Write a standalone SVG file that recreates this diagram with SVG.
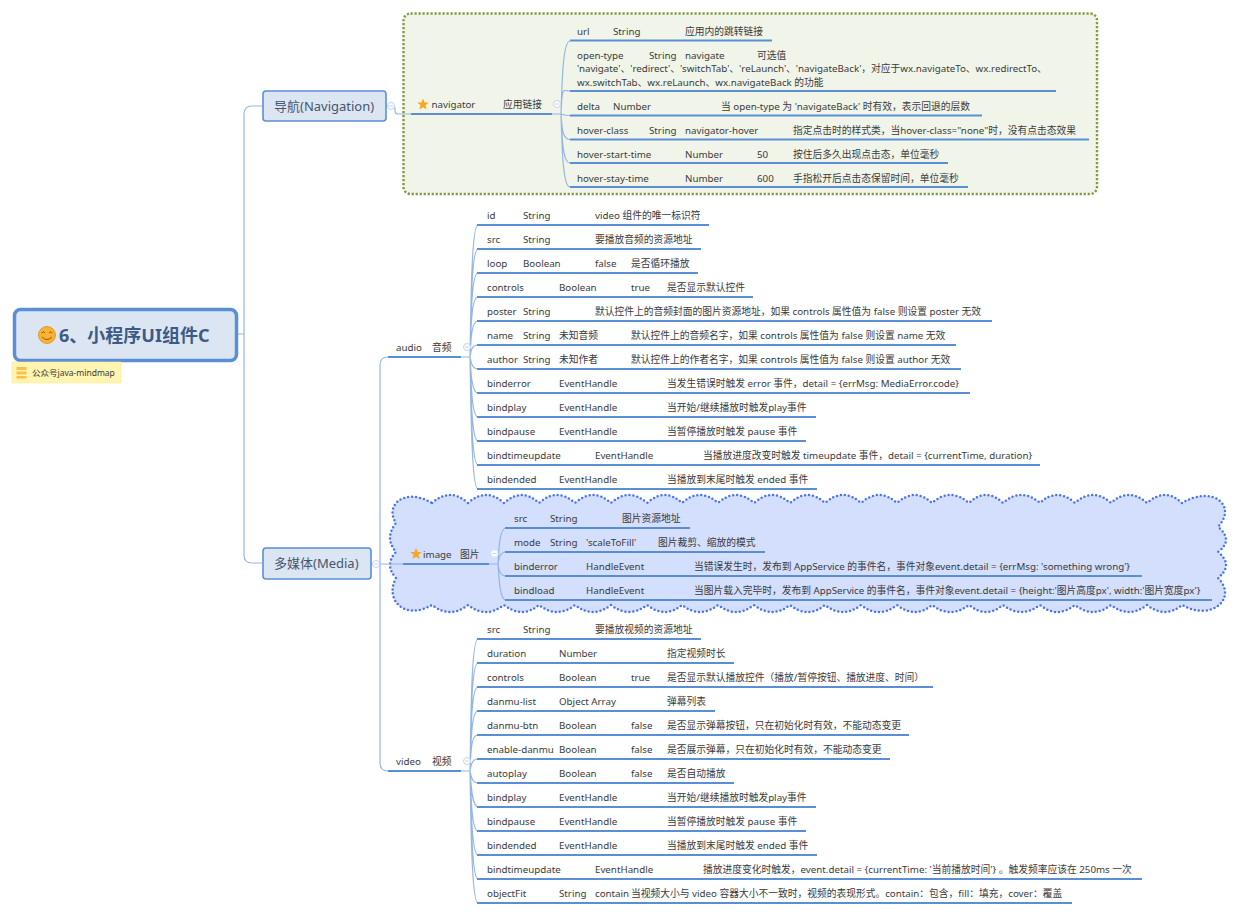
<svg xmlns="http://www.w3.org/2000/svg" width="1240" height="915" viewBox="0 0 1240 915">
<style>
text{font-family:"Noto Sans","Noto Sans CJK SC",sans-serif;font-size:9.75px;fill:#3a3a3a}
.u{stroke:#5b8fd5;stroke-width:2;fill:none}
.c{stroke:#94b6e6;stroke-width:1.2;fill:none}
.f{fill:#fff;stroke:#c3d4ee;stroke-width:1}
.m{stroke:#c3d4ee;stroke-width:1}
.b{fill:#dce6f2;stroke:#5b8fd5;stroke-width:1.6}
.bt{font-size:13px;fill:#45556e}
</style>
<defs>
<polygon id="star" points="0,-6 1.6,-2 5.8,-1.9 2.5,.8 3.6,5 0,2.7 -3.6,5 -2.5,.8 -5.8,-1.9 -1.6,-2" fill="#f5a81c"/>
</defs>
<rect id="boundary-navigator" x="403.500" y="13.500" width="693.500" height="180.500" rx="7" fill="#f1f5e9" stroke="#7f9a3f" stroke-width="2.400" stroke-dasharray="2.200 1.800"/>
<path id="boundary-image" d="M432 503Q450 487 468 503Q486 487 504 503Q522 487 539 503Q557 487 575 503Q593 487 611 503Q629 487 647 503Q665 487 682 503Q700 487 718 503Q736 487 754 503Q772 487 790 503Q808 487 825 503Q843 487 861 503Q879 487 897 503Q915 487 932 503Q950 487 969 503Q986 487 1003 503Q1021 487 1040 503Q1057 487 1075 503Q1093 487 1111 503Q1129 487 1147 503Q1165 487 1182 503C1212 485 1238 505 1218 527Q1234 540 1218 552Q1234 565 1218 578C1238 598 1212 622 1182 605Q1165 619 1147 605Q1129 619 1111 605Q1093 619 1075 605Q1057 619 1040 605Q1021 619 1003 605Q986 619 969 605Q950 619 932 605Q915 619 897 605Q879 619 861 605Q843 619 825 605Q808 619 790 605Q772 619 754 605Q736 619 718 605Q700 619 682 605Q665 619 647 605Q629 619 611 605Q593 619 575 605Q557 619 539 605Q522 619 504 605Q486 619 468 605Q450 619 432 605C405 621 384 600 396 578Q384 565 396 552Q384 538 396 523C384 505 405 487 432 503Z" fill="#d3dffd" stroke="#4a74f0" stroke-width="2.500" stroke-linecap="round" stroke-dasharray="0 4"/>
<g id="connectors">
<path class="c" d="M237 334H244M262 106H252Q244 106 244 114V555Q244 563 252 563H262"/>
<path class="c" d="M371 564H403M388 357Q380 357 380 365V763Q380 771 388 771"/>
<path class="c" d="M386 106H392Q395 106 395 109V111Q395 114 398 114H411"/>
<path class="c" d="M552 114H561C562 80 563 41 570 41M561 114C562 85 563 91 570 91M561 114C562 114 563 115.500 570 115.500M561 114C562 130 563 139.500 570 139.500M561 114C562 140 563 163 570 163M561 114C562 150 563 187 570 187"/>
<path class="c" d="M461 357H470C471 290 472 225 478 225M470 357C471 300 472 249 478 249M470 357C471 310 472 273 478 273M470 357C471 320 472 297 478 297M470 357C471 335 472 321 478 321M470 357C471 350 472 345 478 345M470 357C471 362 472 369 478 369M470 357C471 375 472 393 478 393M470 357C471 385 472 417 478 417M470 357C471 400 472 441 478 441M470 357C471 410 472 465 478 465M470 357C471 420 472 489 478 489"/>
<path class="c" d="M489 564H498C499 545 500 528 506 528M498 564C499 558 500 552 506 552M498 564C499 570 500 576 506 576M498 564C499 580 500 600 506 600"/>
<path class="c" d="M461 771H470C471 700 472 639 478 639M470 771C471 710 472 663 478 663M470 771C471 720 472 687 478 687M470 771C471 735 472 711 478 711M470 771C471 745 472 735 478 735M470 771C471 765 472 759 478 759M470 771C471 776 472 783 478 783M470 771C471 785 472 807 478 807M470 771C471 800 472 831 478 831M470 771C471 810 472 855 478 855M470 771C471 820 472 879 478 879M470 771C471 835 472 903 478 903"/>
</g>
<g id="root">
<rect x="14.500" y="309.500" width="222" height="51" rx="6" fill="#dce6f2" stroke="#5b8fd5" stroke-width="3.500"/>
<circle cx="47" cy="335" r="8.500" fill="#f9b233" stroke="#e08e1a" stroke-width=".8"/>
<path d="M41.500 333q2-2.500 3.500 0M49 333q2-2.500 3.500 0M42 337q5 5 10 0" fill="none" stroke="#8a5a10" stroke-width="1"/>
<text x="59" y="341.500" style="font-size:18px;font-weight:700;fill:#3d5a87">6、小程序UI组件C</text>
</g>
<g id="note">
<rect x="12" y="362" width="109" height="21" fill="#fff4b0" stroke="#fbe9a0" stroke-width=".6"/>
<rect x="16.500" y="367" width="10" height="3" fill="#fbbf4b"/><rect x="16.500" y="371.500" width="10" height="3" fill="#fbbf4b"/><rect x="16.500" y="376" width="10" height="2.500" fill="#fbbf4b"/>
<text x="32" y="376" style="font-size:8.500px">公众号java-mindmap</text>
</g>
<g id="nav"><rect class="b" x="263" y="91" width="123" height="30" rx="3"/><text class="bt" x="274" y="111">导航(Navigation)</text><circle class="f" cx="391" cy="106" r="3.500"/><path class="m" d="M389 106h4"/></g>
<g id="media"><rect class="b" x="263" y="548" width="108" height="31" rx="3"/><text class="bt" x="274" y="568">多媒体(Media)</text><circle class="f" cx="376" cy="564" r="3.500"/><path class="m" d="M374 564h4"/></g>
<g id="navigator"><use href="#star" x="423" y="104.500"/><path class="u" d="M411 114H552"/><text y="108"><tspan x="431.500">navigator</tspan><tspan x="503">应用链接</tspan></text><circle class="f" cx="557" cy="104" r="3.500"/><path class="m" d="M555 104h4"/></g>
<g id="audio"><path class="u" d="M388 357H461"/><text y="351"><tspan x="396">audio</tspan><tspan x="432">音频</tspan></text><circle class="f" cx="467" cy="347" r="3.500"/><path class="m" d="M465 347h4"/></g>
<g id="image"><use href="#star" x="416" y="554"/><path class="u" d="M403 564H489"/><text y="557.500"><tspan x="423">image</tspan><tspan x="460">图片</tspan></text><circle cx="494.500" cy="553.500" r="3.500" fill="#fff" stroke="#dfe7fb"/><path class="m" d="M492.500 553.500h4"/></g>
<g id="video"><path class="u" d="M388 771H461"/><text y="764.500"><tspan x="396">video</tspan><tspan x="432">视频</tspan></text><circle class="f" cx="467" cy="761" r="3.500"/><path class="m" d="M465 761h4"/></g>
<g id="nav-url"><path class="u" d="M570 40.500H772"/><text y="35"><tspan x="577">url</tspan><tspan x="613">String</tspan><tspan x="685">应用内的跳转链接</tspan></text></g>
<g id="nav-open-type"><path class="u" d="M570 91H1056"/><text y="58.500"><tspan x="577">open-type</tspan><tspan x="649">String</tspan><tspan x="685">navigate</tspan><tspan x="757">可选值</tspan></text><text x="577" y="72">'navigate'、'redirect'、'switchTab'、'reLaunch'、'navigateBack'，对应于wx.navigateTo、wx.redirectTo、</text><text x="577" y="85.500">wx.switchTab、wx.reLaunch、wx.navigateBack 的功能</text></g>
<g id="nav-delta"><path class="u" d="M570 115.500H982"/><text y="109.500"><tspan x="577">delta</tspan><tspan x="613">Number</tspan><tspan x="721">当 open-type 为 'navigateBack' 时有效，表示回退的层数</tspan></text></g>
<g id="nav-hover-class"><path class="u" d="M570 139.500H1089"/><text y="133.500"><tspan x="577">hover-class</tspan><tspan x="649">String</tspan><tspan x="685">navigator-hover</tspan><tspan x="793">指定点击时的样式类，当hover-class="none"时，没有点击态效果</tspan></text></g>
<g id="nav-hover-start"><path class="u" d="M570 163H948"/><text y="157.500"><tspan x="577">hover-start-time</tspan><tspan x="685">Number</tspan><tspan x="757">50</tspan><tspan x="793">按住后多久出现点击态，单位毫秒</tspan></text></g>
<g id="nav-hover-stay"><path class="u" d="M570 187H968"/><text y="181.500"><tspan x="577">hover-stay-time</tspan><tspan x="685">Number</tspan><tspan x="757">600</tspan><tspan x="793">手指松开后点击态保留时间，单位毫秒</tspan></text></g>
<g id="audio-id"><path class="u" d="M477 225H709"/><text y="219"><tspan x="487">id</tspan><tspan x="523">String</tspan><tspan x="595">video 组件的唯一标识符</tspan></text></g>
<g id="audio-src"><path class="u" d="M477 249H701"/><text y="243"><tspan x="487">src</tspan><tspan x="523">String</tspan><tspan x="595">要播放音频的资源地址</tspan></text></g>
<g id="audio-loop"><path class="u" d="M477 273H698"/><text y="267"><tspan x="487">loop</tspan><tspan x="523">Boolean</tspan><tspan x="595">false</tspan><tspan x="631">是否循环播放</tspan></text></g>
<g id="audio-controls"><path class="u" d="M477 297H753"/><text y="291"><tspan x="487">controls</tspan><tspan x="559">Boolean</tspan><tspan x="631">true</tspan><tspan x="667">是否显示默认控件</tspan></text></g>
<g id="audio-poster"><path class="u" d="M477 321H992"/><text y="315"><tspan x="487">poster</tspan><tspan x="523">String</tspan><tspan x="595">默认控件上的音频封面的图片资源地址，如果 controls 属性值为 false 则设置 poster 无效</tspan></text></g>
<g id="audio-name"><path class="u" d="M477 345H956"/><text y="339"><tspan x="487">name</tspan><tspan x="523">String</tspan><tspan x="559">未知音频</tspan><tspan x="631">默认控件上的音频名字，如果 controls 属性值为 false 则设置 name 无效</tspan></text></g>
<g id="audio-author"><path class="u" d="M477 369H961"/><text y="363"><tspan x="487">author</tspan><tspan x="523">String</tspan><tspan x="559">未知作者</tspan><tspan x="631">默认控件上的作者名字，如果 controls 属性值为 false 则设置 author 无效</tspan></text></g>
<g id="audio-binderror"><path class="u" d="M477 393H970"/><text y="387"><tspan x="487">binderror</tspan><tspan x="559">EventHandle</tspan><tspan x="667">当发生错误时触发 error 事件，detail = {errMsg: MediaError.code}</tspan></text></g>
<g id="audio-bindplay"><path class="u" d="M477 417H816"/><text y="411"><tspan x="487">bindplay</tspan><tspan x="559">EventHandle</tspan><tspan x="667">当开始/继续播放时触发play事件</tspan></text></g>
<g id="audio-bindpause"><path class="u" d="M477 441H806"/><text y="435"><tspan x="487">bindpause</tspan><tspan x="559">EventHandle</tspan><tspan x="667">当暂停播放时触发 pause 事件</tspan></text></g>
<g id="audio-bindtimeupdate"><path class="u" d="M477 465H1040"/><text y="459"><tspan x="487">bindtimeupdate</tspan><tspan x="595">EventHandle</tspan><tspan x="703">当播放进度改变时触发 timeupdate 事件，detail = {currentTime, duration}</tspan></text></g>
<g id="audio-bindended"><path class="u" d="M477 489H817"/><text y="483"><tspan x="487">bindended</tspan><tspan x="559">EventHandle</tspan><tspan x="667">当播放到末尾时触发 ended 事件</tspan></text></g>
<g id="image-src"><path class="u" d="M505 528H690"/><text y="522"><tspan x="514">src</tspan><tspan x="550">String</tspan><tspan x="622">图片资源地址</tspan></text></g>
<g id="image-mode"><path class="u" d="M505 552H765"/><text y="546"><tspan x="514">mode</tspan><tspan x="550">String</tspan><tspan x="586">'scaleToFill'</tspan><tspan x="658">图片裁剪、缩放的模式</tspan></text></g>
<g id="image-binderror"><path class="u" d="M505 576H1142"/><text y="570"><tspan x="514">binderror</tspan><tspan x="586">HandleEvent</tspan><tspan x="694">当错误发生时，发布到 AppService 的事件名，事件对象event.detail = {errMsg: 'something wrong'}</tspan></text></g>
<g id="image-bindload"><path class="u" d="M505 600H1212"/><text y="594"><tspan x="514">bindload</tspan><tspan x="586">HandleEvent</tspan><tspan x="694">当图片载入完毕时，发布到 AppService 的事件名，事件对象event.detail = {height:'图片高度px', width:'图片宽度px'}</tspan></text></g>
<g id="video-src"><path class="u" d="M477 639H701"/><text y="633"><tspan x="487">src</tspan><tspan x="523">String</tspan><tspan x="595">要播放视频的资源地址</tspan></text></g>
<g id="video-duration"><path class="u" d="M477 663H734"/><text y="657"><tspan x="487">duration</tspan><tspan x="559">Number</tspan><tspan x="667">指定视频时长</tspan></text></g>
<g id="video-controls"><path class="u" d="M477 687H933"/><text y="681"><tspan x="487">controls</tspan><tspan x="559">Boolean</tspan><tspan x="631">true</tspan><tspan x="667">是否显示默认播放控件（播放/暂停按钮、播放进度、时间）</tspan></text></g>
<g id="video-danmu-list"><path class="u" d="M477 711H715"/><text y="705"><tspan x="487">danmu-list</tspan><tspan x="559">Object Array</tspan><tspan x="667">弹幕列表</tspan></text></g>
<g id="video-danmu-btn"><path class="u" d="M477 735H909"/><text y="729"><tspan x="487">danmu-btn</tspan><tspan x="559">Boolean</tspan><tspan x="631">false</tspan><tspan x="667">是否显示弹幕按钮，只在初始化时有效，不能动态变更</tspan></text></g>
<g id="video-enable-danmu"><path class="u" d="M477 759H890"/><text y="753"><tspan x="487">enable-danmu</tspan><tspan x="559">Boolean</tspan><tspan x="631">false</tspan><tspan x="667">是否展示弹幕，只在初始化时有效，不能动态变更</tspan></text></g>
<g id="video-autoplay"><path class="u" d="M477 783H734"/><text y="777"><tspan x="487">autoplay</tspan><tspan x="559">Boolean</tspan><tspan x="631">false</tspan><tspan x="667">是否自动播放</tspan></text></g>
<g id="video-bindplay"><path class="u" d="M477 807H816"/><text y="801"><tspan x="487">bindplay</tspan><tspan x="559">EventHandle</tspan><tspan x="667">当开始/继续播放时触发play事件</tspan></text></g>
<g id="video-bindpause"><path class="u" d="M477 831H806"/><text y="825"><tspan x="487">bindpause</tspan><tspan x="559">EventHandle</tspan><tspan x="667">当暂停播放时触发 pause 事件</tspan></text></g>
<g id="video-bindended"><path class="u" d="M477 855H817"/><text y="849"><tspan x="487">bindended</tspan><tspan x="559">EventHandle</tspan><tspan x="667">当播放到末尾时触发 ended 事件</tspan></text></g>
<g id="video-bindtimeupdate"><path class="u" d="M477 879H1142"/><text y="873"><tspan x="487">bindtimeupdate</tspan><tspan x="595">EventHandle</tspan><tspan x="703">播放进度变化时触发，event.detail = {currentTime: '当前播放时间'} 。触发频率应该在 250ms 一次</tspan></text></g>
<g id="video-objectfit"><path class="u" d="M477 903H1072"/><text y="897"><tspan x="487">objectFit</tspan><tspan x="559">String</tspan><tspan x="595">contain</tspan><tspan x="631">当视频大小与 video 容器大小不一致时，视频的表现形式。contain：包含，fill：填充，cover：覆盖</tspan></text></g>
</svg>
